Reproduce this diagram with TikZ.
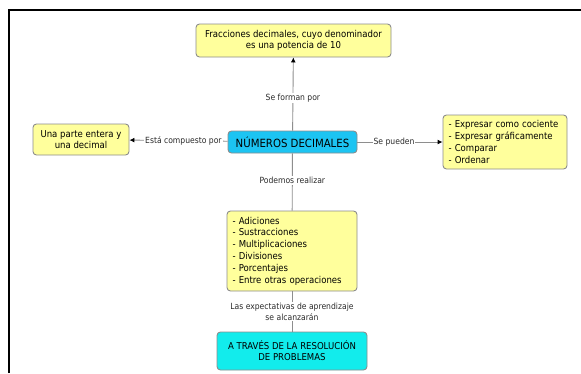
\documentclass[tikz,border=0pt]{standalone}
\usepackage{fontspec}
\setmainfont{DejaVu Sans Condensed}
\usetikzlibrary{arrows.meta}
\definecolor{boxyellow}{HTML}{FFFF9C}
\definecolor{boxedge}{HTML}{8C8C8C}
\definecolor{skyfill}{HTML}{1CC4F2}
\definecolor{aquafill}{HTML}{12ECEC}
\definecolor{linkgray}{HTML}{8E8E8E}
\definecolor{labeltext}{HTML}{2A2A2A}
\begin{document}
\begin{tikzpicture}[x=1pt,y=-1pt,
  concept/.style={draw=boxedge, line width=0.9pt, rounded corners=3.5pt,
    fill=boxyellow, inner sep=0pt, align=center, text=black,
    font=\fontsize{9.5}{11}\selectfont},
  listbox/.style={concept, align=left, inner xsep=5.5pt,
    font=\fontsize{9.5}{11.8}\selectfont},
  mainbox/.style={concept, fill=skyfill, font=\fontsize{11.3}{12}\selectfont},
  endbox/.style={concept, fill=aquafill},
  link/.style={draw=linkgray, line width=0.9pt},
  arrowlink/.style={link, -{Latex[length=5pt,width=5pt,fill=black,color=black]}},
  linklabel/.style={fill=white, inner sep=1pt, text=labeltext,
    font=\fontsize{8.5}{11}\selectfont, align=center}]
  \useasboundingbox (0,0) rectangle (581,373);
  \fill[white] (0,0) rectangle (581,373);
  % page frame (top and left edges)
  \draw[line width=2pt, black] (9,373) -- (9,10) -- (581,10);

  % concepts
  \node[mainbox, minimum width=129pt, minimum height=22pt] (num) at (292.5,142)
    {NÚMEROS DECIMALES};
  \node[concept, minimum width=195pt, minimum height=33pt] (frac) at (293.5,40.5)
    {Fracciones decimales, cuyo denominador\\es una potencia de 10};
  \node[concept, minimum width=96pt, minimum height=31pt] (parte) at (81,139.5)
    {Una parte entera y\\una decimal};
  \node[listbox, text width=113pt, minimum height=54pt] (puede) at (505,142)
    {- Expresar como cociente\\- Expresar gráficamente\\- Comparar\\- Ordenar};
  \node[listbox, text width=119pt, minimum height=80pt] (ops) at (292,251)
    {- Adiciones\\- Sustracciones\\- Multiplicaciones\\- Divisiones\\- Porcentajes\\- Entre otras operaciones};
  \node[endbox, minimum width=150pt, minimum height=38pt] (res) at (292,351)
    {A TRAVÉS DE LA RESOLUCIÓN\\DE PROBLEMAS};

  % connectors
  \draw[arrowlink] (num) -- node[linklabel, pos=0.45] {Se forman por} (frac);
  \draw[arrowlink] (num) -- node[linklabel, pos=0.45] {Está compuesto por} (parte);
  \draw[arrowlink] (num) -- node[linklabel, pos=0.43] {Se pueden} (puede);
  \draw[link] (num) -- node[linklabel, pos=0.47] {Podemos realizar} (ops);
  \draw[link] (ops) -- node[linklabel, pos=0.5] {Las expectativas de aprendizaje\\se alcanzarán} (res);
\end{tikzpicture}
\end{document}
